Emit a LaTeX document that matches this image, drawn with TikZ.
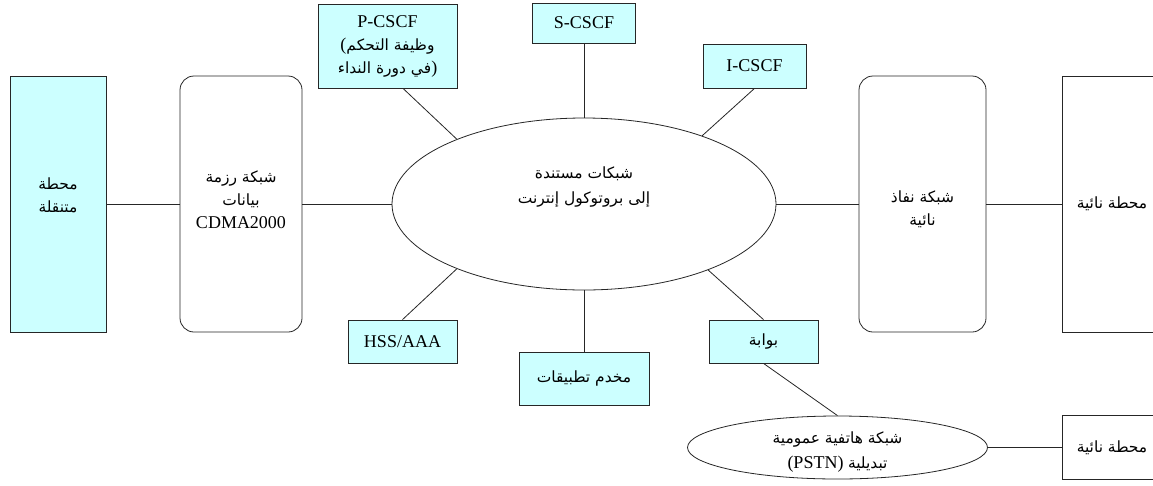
\documentclass[tikz,border=0pt]{standalone}
\usepackage{fontspec}
\setmainfont{Liberation Serif}
\newfontfamily\arabicfont[Script=Arabic,Scale=0.86]{DejaVu Sans}
\TeXXeTstate=1
\usetikzlibrary{shapes.geometric,calc}
\definecolor{boxcyan}{HTML}{CCFFFF}
\newcommand{\artxt}[1]{{\arabicfont\beginR #1\endR}}
\newcommand{\lowtxt}[1]{\raisebox{-5pt}[12pt][3pt]{\artxt{#1}}}
\tikzset{
  base/.style={draw=black!85, line width=0.8pt, align=center, inner sep=0pt,
    font=\fontsize{18}{23}\selectfont},
  cyanbox/.style={base, rectangle, fill=boxcyan},
  plainbox/.style={base, rectangle, fill=white},
  roundbox/.style={base, rectangle, rounded corners=14pt, fill=white},
  cloud/.style={base, ellipse, fill=white},
  link/.style={draw=black!85, line width=0.8pt},
  txt/.style={align=center, inner sep=0pt, font=\fontsize{18}{25}\selectfont}
}
\begin{document}
\begin{tikzpicture}[x=1pt,y=-1pt]
\useasboundingbox (0,0) rectangle (1153,485);
\clip (0,0) rectangle (1153,485);
% nodes
\node[cyanbox, minimum width=96pt, minimum height=256pt] (ms) at (58,204) {\artxt{محطة}\\\artxt{متنقلة}\\[-5pt]};
\node[roundbox, minimum width=122pt, minimum height=256pt] (cdma) at (241,204) {\artxt{شبكة رزمة}\\\artxt{بيانات}\\CDMA2000\\[-15pt]};
\node[cloud, minimum width=384pt, minimum height=172pt] (ip) at (584,204) {};
\node[txt] (iptext) at (584,187) {\artxt{شبكات مستندة}\\\artxt{إلى بروتوكول إنترنت}};
\node[cyanbox, minimum width=139pt, minimum height=84pt] (pcscf) at (387.5,46) {P-CSCF\\\hbox{(}\hbox{\artxt{وظيفة التحكم}}\\\hbox{\artxt{في دورة النداء}}\hbox{)}};
\node[cyanbox, minimum width=103pt, minimum height=40pt] (scscf) at (584,23) {S-CSCF};
\node[cyanbox, minimum width=103pt, minimum height=44pt] (icscf) at (754.5,66) {I-CSCF};
\node[roundbox, minimum width=127pt, minimum height=256pt] (acc) at (922.5,204) {\lowtxt{شبكة نفاذ}\\\lowtxt{نائية}};
\node[plainbox, minimum width=100pt, minimum height=256pt] (rs) at (1112,204) {\artxt{محطة نائية}};
\node[cyanbox, minimum width=109pt, minimum height=43pt] (hss) at (402.5,341.5) {HSS/AAA};
\node[cyanbox, minimum width=130pt, minimum height=53pt] (app) at (584,378.5) {\artxt{مخدم تطبيقات}};
\node[cyanbox, minimum width=109pt, minimum height=43pt] (gw) at (763.5,341.5) {\artxt{بوابة}};
\node[cloud, minimum width=300pt, minimum height=63pt] (pstn) at (837.5,447.5) {};
\node[txt] (pstntext) at (837.5,452) {\artxt{شبكة هاتفية عمومية}\\\hbox{(PSTN)} \hbox{\artxt{تبديلية}}};
\node[plainbox, minimum width=100pt, minimum height=64pt] (rs2) at (1112,447.5) {\artxt{محطة نائية}};
% connectors
\draw[link] (ms.east) -- (cdma.west);
\draw[link] (cdma.east) -- (ip.west);
\draw[link] (ip.east) -- (acc.west);
\draw[link] (acc.east) -- (rs.west);
\draw[link] ([xshift=15.5pt]pcscf.south) -- (ip.153);
\draw[link] (scscf.south) -- (ip.north);
\draw[link] (icscf.south) -- (ip.30);
\draw[link] (hss.north) -- (ip.207);
\draw[link] (app.north) -- (ip.south);
\draw[link] (gw.north) -- (ip.332);
\draw[link] (gw.south) -- (pstn.north);
\draw[link] (pstn.east) -- (rs2.west);
\end{tikzpicture}
\end{document}
